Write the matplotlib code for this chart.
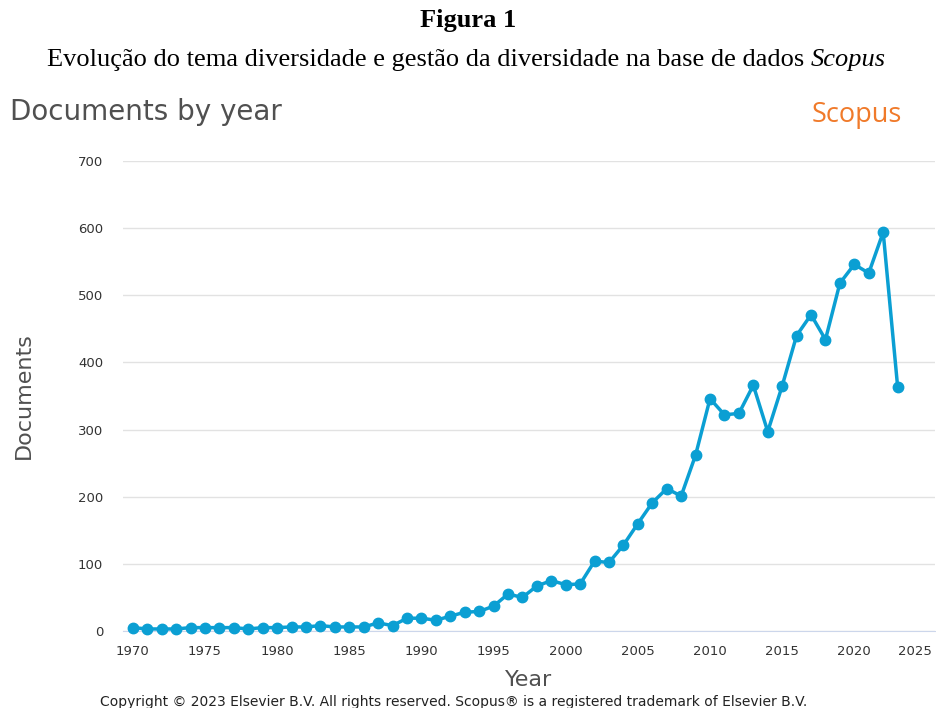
import numpy as np
import matplotlib
matplotlib.use("Agg")
import matplotlib.pyplot as plt
import matplotlib.transforms as mtransforms

# documents per year
years = list(range(1970, 2024))
docs = [5, 3, 3, 3, 5, 5, 5, 5, 3, 5,
        5, 6, 6, 8, 6, 6, 6, 12, 8, 19,
        19, 16, 22, 28, 29, 37, 55, 50, 67, 75,
        69, 70, 104, 102, 128, 160, 191, 212, 201, 262,
        346, 322, 324, 366, 297, 365, 440, 471, 434, 518,
        546, 533, 594, 364]

yticks = [0, 100, 200, 300, 400, 500, 600, 700]
xticks = list(range(1970, 2026, 5))

blue = "#0b9fd3"
grey = "#505050"

fig = plt.figure(figsize=(9.37, 7.08), dpi=100)
ax = fig.add_axes([0.131, 0.1088, 0.867, 0.6638])

ax.plot(years, docs, color=blue, lw=2.5, marker="o", ms=7.5, clip_on=False, zorder=3)

ax.set_ylim(0, 700)
ax.set_xlim(1969.3, 2025.6)
ax.set_yticks(yticks)
ax.set_xticks(xticks)
ax.grid(axis="y", color="#e2e2e2", lw=1)
ax.set_axisbelow(True)
for s in ["top", "right", "left"]:
    ax.spines[s].set_visible(False)
ax.spines["bottom"].set_color("#ccd6eb")
ax.tick_params(axis="both", length=0, labelsize=9.5, labelcolor="#333333")
ax.tick_params(axis="y", pad=14)
ax.tick_params(axis="x", pad=10)

# last year label is pulled in so it stays inside the picture
last = ax.get_xticklabels()[-1]
last.set_transform(last.get_transform() + mtransforms.ScaledTranslation(-12 / 100, 0, fig.dpi_scale_trans))

ax.set_ylabel("Documents", fontsize=16, color=grey, labelpad=32)
ax.set_xlabel("Year", fontsize=16, color=grey, labelpad=9)

# headings
fig.text(0.5, 0.971, "Figura 1", ha="center", va="center",
         family="Liberation Serif", weight="bold", fontsize=19)
t1 = fig.text(0.05, 0.915, "Evolução do tema diversidade e gestão da diversidade na base de dados ",
              ha="left", va="center", family="Liberation Serif", fontsize=19)
fig.canvas.draw()
ax.annotate("Scopus", xy=(1, 0), xycoords=t1, ha="left", va="bottom",
            family="Liberation Serif", style="italic", fontsize=19)

fig.text(0.011, 0.842, "Documents by year", ha="left", va="center",
         fontsize=20, color=grey)
fig.text(0.963, 0.837, "Scopus", ha="right", va="center",
         fontsize=19.5, color="#f07a2a", family="Open Sans")

fig.text(0.484, 0.009, "Copyright © 2023 Elsevier B.V. All rights reserved. Scopus® is a registered trademark of Elsevier B.V.",
         ha="center", va="center", fontsize=10, color="#222222")

fig.savefig("out.png", dpi=100)
